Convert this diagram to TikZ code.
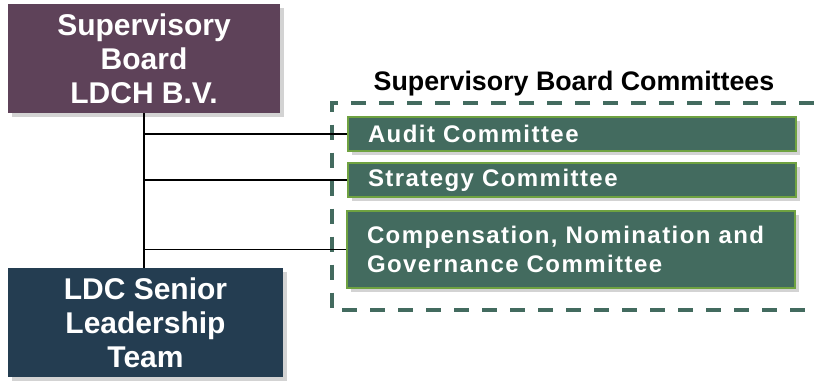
\documentclass[tikz,border=0pt]{standalone}
\usepackage{fontspec}
\setmainfont{Liberation Sans}
\usepackage{tikz}
\usetikzlibrary{calc,shadows,positioning}

\definecolor{boardpurple}{HTML}{5E4259}
\definecolor{teamblue}{HTML}{243D51}
\definecolor{cmtgreen}{HTML}{436B5F}
\definecolor{cmtedge}{HTML}{6FA241}

\tikzset{
  shade box/.style={drop shadow={shadow xshift=4pt, shadow yshift=-4pt, opacity=.35}},
  bigbox/.style={shade box, text=white, align=center, minimum height=109pt,
    font=\fontsize{30}{34}\selectfont\bfseries},
  cmtbox/.style={shade box, fill=cmtgreen, draw=cmtedge, line width=2pt, text=white,
    anchor=west, align=left, text width=408pt, inner xsep=20pt,
    font=\fontsize{24}{29}\selectfont\bfseries\addfontfeature{LetterSpace=6}},
  link/.style={line width=1.5pt},
  frame/.style={cmtgreen, line width=4pt, dash pattern=on 15pt off 13pt},
}

\begin{document}
\begin{tikzpicture}[x=1pt,y=-1pt]
  \useasboundingbox (0,0) rectangle (814,388);

  % dashed frame round the committees, open on the right
  \draw[frame] (814,103) -| (331.5,310) -- (814,310);

  \node[bigbox, fill=boardpurple, minimum width=272pt] (board) at (144,58.5)
    {Supervisory\\Board\\LDCH B.V.};
  \node[bigbox, fill=teamblue, minimum width=275pt] (team) at (145.5,322.5)
    {LDC Senior\\Leadership\\Team};

  \node[font=\fontsize{26.8}{31}\selectfont\bfseries] (title) at (574,83.5)
    {Supervisory Board Committees};

  \node[cmtbox, minimum height=34pt] (audit) at (347,134) {Audit Committee};
  \node[cmtbox, minimum height=34pt] (strategy) at (347,180) {Strategy Committee};
  \node[cmtbox, minimum height=77pt] (cng) at (346,249.5)
    {Compensation, Nomination and\\Governance Committee};

  % trunk and branches
  \draw[link] (board.south) -- (board.south |- team.north);
  \foreach \c in {audit,strategy,cng}
    \draw[link] (board.south |- \c.west) -- (\c.west);
\end{tikzpicture}
\end{document}
